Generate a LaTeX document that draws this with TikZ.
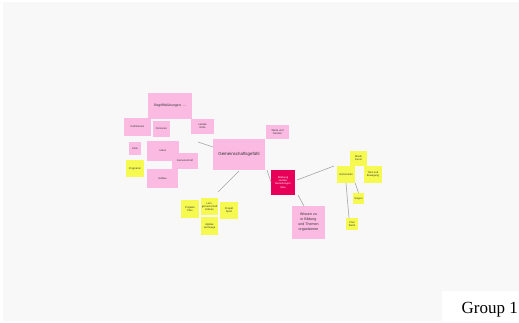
\documentclass[tikz,border=0pt]{standalone}
\usetikzlibrary{calc}
\usepackage{fontspec}
\setmainfont{Liberation Serif}
\newfontfamily\notefont{Liberation Sans}
\definecolor{bgc}{RGB}{248,248,248}
\definecolor{pinkn}{RGB}{250,186,226}
\definecolor{yelln}{RGB}{246,250,80}
\definecolor{redn}{RGB}{232,0,88}
\definecolor{linec}{RGB}{165,165,165}
\tikzset{
  note/.style={inner sep=0pt, align=center, font=\notefont\fontsize{2.6}{3.1}\selectfont, text=black!80},
  pnote/.style={note, fill=pinkn},
  ynote/.style={note, fill=yelln},
  rnote/.style={note, fill=redn, text=white},
  conn/.style={draw=linec, line width=0.6pt},
}
\begin{document}
\begin{tikzpicture}[x=1pt,y=-1pt]
\useasboundingbox (0,0) rectangle (519,322);
\fill[white] (0,0) rectangle (519,322);
\fill[bgc] (3,2) rectangle (519,321);
% pink notes, left group
\node[pnote, minimum width=44pt, minimum height=26pt, font=\notefont\fontsize{3.4}{4}\selectfont] (begr) at (170,106) {Begriffsklärungen: ...};
\node[pnote, minimum width=27pt, minimum height=18pt] (defi) at (137.5,127) {Definitionen};
\node[pnote, minimum width=17pt, minimum height=16pt] (pers) at (161.5,129) {Personen};
\node[pnote, minimum width=23pt, minimum height=15pt] (soz) at (202.5,126.5) {soziale\\Rolle};
\node[pnote, minimum width=23pt, minimum height=14pt] (tr) at (277.5,132) {Werte und\\Normen};
\node[pnote, minimum width=12pt, minimum height=13pt] (zus) at (135,148.5) {Ziele};
\node[ynote, minimum width=18pt, minimum height=17pt] (prog) at (135,168.5) {Programm};
\node[pnote, minimum width=32pt, minimum height=20pt] (idee) at (163,151) {Ideen};
\node[pnote, minimum width=26pt, minimum height=16pt] (gem) at (185,161) {Gemeinschaft};
\node[pnote, minimum width=31pt, minimum height=19pt] (aufb) at (162.5,178.5) {Aufbau};
% central
\node[pnote, minimum width=52pt, minimum height=31pt, font=\notefont\fontsize{4.4}{5}\selectfont] (central) at (239,154.5) {Gemeinschaftsgefühl};
\node[rnote, minimum width=24pt, minimum height=25pt] (red) at (283,182.5) {Stärkung\\sozialer\\Beziehungen\\Idee};
\node[pnote, minimum width=33pt, minimum height=33pt, font=\notefont\fontsize{3.6}{5}\selectfont] (wiss) at (308.5,222.5) {Wissen zu\\in Bildung\\und Themen\\organisieren};
% yellow cluster bottom
\node[ynote, minimum width=18pt, minimum height=18pt] (y1) at (190,209) {Projekte\\Plan};
\node[ynote, minimum width=17pt, minimum height=17pt] (y2) at (209.5,206.5) {Lern-\\gemeinschaft\\stärken};
\node[ynote, minimum width=18pt, minimum height=17pt] (y3) at (229,210.5) {Projekt\\Sport};
\node[ynote, minimum width=17pt, minimum height=18pt] (y4) at (209.5,226) {digitale\\Lernwege};
% yellow cluster right
\node[ynote, minimum width=17pt, minimum height=15pt] (musik) at (358.5,158.5) {Musik\\Kunst};
\node[ynote, minimum width=18pt, minimum height=17pt] (instr) at (346,174.5) {Instrumente};
\node[ynote, minimum width=18pt, minimum height=17pt] (tanz) at (373,174.5) {Tanz und\\Bewegung};
\node[ynote, minimum width=11pt, minimum height=11pt] (sing) at (358.5,198.5) {Singen};
\node[ynote, minimum width=12pt, minimum height=12pt] (chor) at (352,224) {Chor\\Band};
% connectors
\coordinate (cA) at (198,142);
\coordinate (cE) at (213,147);
\coordinate (cB) at (218,192);
\coordinate (cF) at (239,171);
\coordinate (cG) at (267,170);
\coordinate (cH) at (271,182);
\coordinate (cI) at (297,180);
\coordinate (cC) at (334,166);
\coordinate (cJ) at (298,195);
\coordinate (cK) at (304,206);
\coordinate (cD) at (349,218);
\draw[conn] (cA) -- (cE);
\draw[conn] (cF) -- (cB);
\draw[conn] (cG) -- (cH);
\draw[conn] (cI) -- (cC);
\draw[conn] (cJ) -- (cK);
\draw[conn] (instr.south) -- (cD);
\draw[conn] (instr.south east) -- (sing.north);
% label
\fill[white] (442,291) rectangle (519,322);
\node[font=\fontsize{17}{17}\selectfont, anchor=base east, inner sep=0pt] (grp) at (518,313) {Group 1};
\end{tikzpicture}
\end{document}
